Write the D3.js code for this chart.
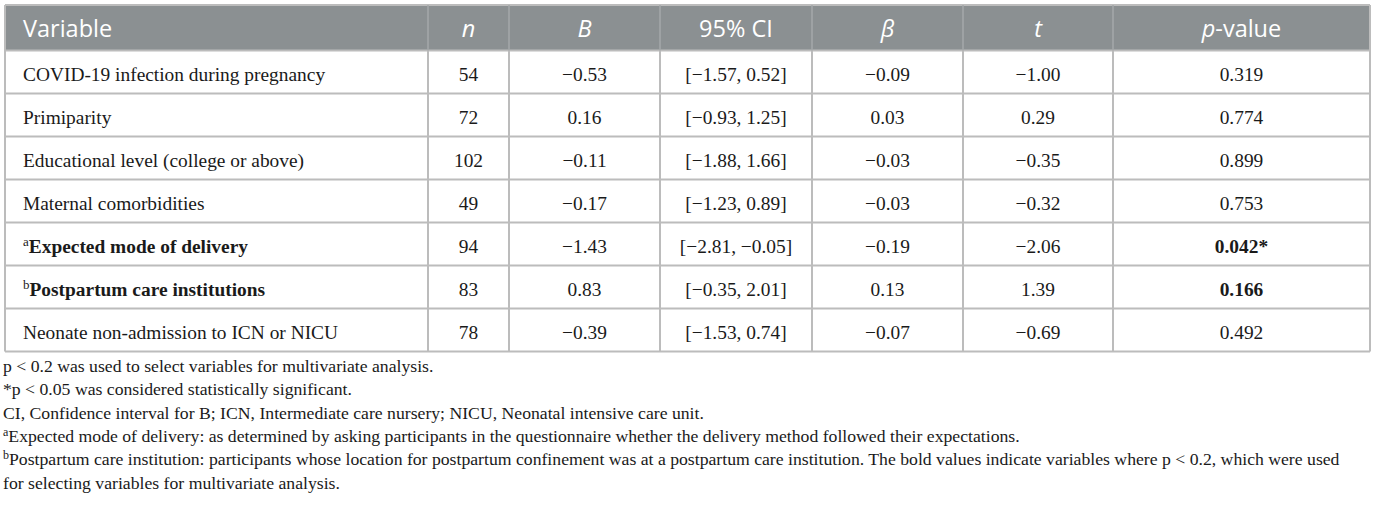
<!DOCTYPE html>
<html>
<head>
<meta charset="utf-8">
<script src="https://cdn.jsdelivr.net/npm/d3@7"></script>
<style>
  body { margin: 0; background: #fff; }
  svg { display: block; }
</style>
</head>
<body>
<div id="table"></div>
<script>
// table values
var headers = ["Variable", "n", "B", "95% CI", "β", "t", "p-value"];
var variables = [
  "COVID-19 infection during pregnancy",
  "Primiparity",
  "Educational level (college or above)",
  "Maternal comorbidities",
  "Expected mode of delivery",
  "Postpartum care institutions",
  "Neonate non-admission to ICN or NICU"
];
var marks = ["", "", "", "", "a", "b", ""];
var boldRow = [false, false, false, false, true, true, false];
var nValues = [54, 72, 102, 49, 94, 83, 78];
var bValues = [-0.53, 0.16, -0.11, -0.17, -1.43, 0.83, -0.39];
var ciLow = [-1.57, -0.93, -1.88, -1.23, -2.81, -0.35, -1.53];
var ciHigh = [0.52, 1.25, 1.66, 0.89, -0.05, 2.01, 0.74];
var betaValues = [-0.09, 0.03, -0.03, -0.03, -0.19, 0.13, -0.07];
var tValues = [-1.00, 0.29, -0.35, -0.32, -2.06, 1.39, -0.69];
var pValues = ["0.319", "0.774", "0.899", "0.753", "0.042*", "0.166", "0.492"];
var footnotes = [
  ["", "p < 0.2 was used to select variables for multivariate analysis."],
  ["", "*p < 0.05 was considered statistically significant."],
  ["", "CI, Confidence interval for B; ICN, Intermediate care nursery; NICU, Neonatal intensive care unit."],
  ["a", "Expected mode of delivery: as determined by asking participants in the questionnaire whether the delivery method followed their expectations."],
  ["b", "Postpartum care institution: participants whose location for postpartum confinement was at a postpartum care institution. The bold values indicate variables where p < 0.2, which were used"],
  ["", "for selecting variables for multivariate analysis."]
];

var width = 1375, height = 508;
var colEdges = [5, 428, 509, 660, 812, 963, 1113, 1370];
var headTop = 5, headBottom = 50.5;
var gridColor = "#bcbcbc";
var serif = "'Liberation Serif', 'Times New Roman', serif";
var sans = "'Open Sans', 'Noto Sans', sans-serif";

var fmt = function(v){ return d3.format(".2f")(v).replace("-", "\u2212"); };

var svg = d3.select("#table").append("svg")
  .attr("width", width)
  .attr("height", height);

var y = d3.scaleBand()
  .domain(d3.range(variables.length))
  .range([headBottom, headBottom + 43 * variables.length])
  .paddingInner(0);

var colX = d3.scaleOrdinal()
  .domain(d3.range(headers.length))
  .range(colEdges.slice(0, -1));
var colW = function(i){ return colEdges[i + 1] - colEdges[i]; };
var colMid = function(i){ return colX(i) + colW(i) / 2; };

// header band
svg.append("rect")
  .attr("x", colEdges[0]).attr("y", headTop)
  .attr("width", colEdges[colEdges.length - 1] - colEdges[0])
  .attr("height", headBottom - headTop)
  .attr("fill", "#8b9092");

var head = svg.append("g").selectAll("text")
  .data(headers)
  .enter().append("text")
  .attr("x", function(d, i){ return i === 0 ? 23 : colMid(i); })
  .attr("y", 37)
  .attr("text-anchor", function(d, i){ return i === 0 ? "start" : "middle"; })
  .attr("fill", "#ffffff")
  .attr("font-family", sans)
  .attr("font-size", 23.5);

head.each(function(d, i){
  var t = d3.select(this);
  if (i === 0 || d === "95% CI") { t.text(d); return; }
  if (d === "p-value") {
    t.append("tspan").attr("font-style", "italic").text("p");
    t.append("tspan").text("-value");
    return;
  }
  t.append("tspan").attr("font-style", "italic").text(d);
});

// body cells
var rows = svg.append("g").selectAll("g")
  .data(variables)
  .enter().append("g")
  .attr("transform", function(d, i){ return "translate(0," + y(i) + ")"; });

var cells = function(i){
  return [
    nValues[i],
    fmt(bValues[i]),
    "[" + fmt(ciLow[i]) + ", " + fmt(ciHigh[i]) + "]",
    fmt(betaValues[i]),
    fmt(tValues[i]),
    pValues[i]
  ];
};

rows.each(function(d, i){
  var g = d3.select(this);
  var label = g.append("text")
    .attr("x", 23).attr("y", 30.5)
    .attr("font-family", serif).attr("font-size", 19.4)
    .attr("fill", "#1a1a1a");
  if (marks[i]) {
    label.append("tspan").attr("font-size", 13).attr("dy", -7).text(marks[i]);
    label.append("tspan").attr("dy", 7).attr("font-weight", "bold").text(d);
  } else {
    label.text(d);
  }
  g.selectAll("text.val")
    .data(cells(i))
    .enter().append("text")
    .attr("class", "val")
    .attr("x", function(v, j){ return colMid(j + 1); })
    .attr("y", 30.5)
    .attr("text-anchor", "middle")
    .attr("font-family", serif).attr("font-size", 19.4)
    .attr("fill", "#1a1a1a")
    .attr("font-weight", function(v, j){ return (j === 5 && boldRow[i]) ? "bold" : "normal"; })
    .text(function(v){ return v; });
});

// grid lines
var tableBottom = y.range()[1];
var grid = svg.append("g")
  .attr("stroke", gridColor).attr("stroke-width", 2).attr("fill", "none");

grid.selectAll("line.h")
  .data(d3.range(variables.length + 1).map(function(i){ return headBottom + i * y.bandwidth(); }))
  .enter().append("line")
  .attr("x1", colEdges[0]).attr("x2", colEdges[colEdges.length - 1])
  .attr("y1", function(d){ return d; }).attr("y2", function(d){ return d; });

grid.selectAll("line.v")
  .data(colEdges)
  .enter().append("line")
  .attr("x1", function(d){ return d; }).attr("x2", function(d){ return d; })
  .attr("y1", function(d, i){ return (i === 0 || i === colEdges.length - 1) ? headTop : headBottom; })
  .attr("y2", tableBottom);

grid.append("line")
  .attr("x1", colEdges[0]).attr("x2", colEdges[colEdges.length - 1])
  .attr("y1", headTop).attr("y2", headTop);

// header separators (lighter on grey)
svg.append("g").selectAll("line")
  .data(colEdges.slice(1, -1))
  .enter().append("line")
  .attr("x1", function(d){ return d; }).attr("x2", function(d){ return d; })
  .attr("y1", headTop).attr("y2", headBottom)
  .attr("stroke", "#a4a8aa").attr("stroke-width", 1.5);

// footnotes
var notes = svg.append("g").selectAll("text")
  .data(footnotes)
  .enter().append("text")
  .attr("x", 3)
  .attr("y", function(d, i){ return 372 + i * 23.3; })
  .attr("font-family", serif).attr("font-size", 17.7)
  .attr("fill", "#1a1a1a");

notes.each(function(d){
  var t = d3.select(this);
  if (d[0]) {
    t.append("tspan").attr("font-size", 12).attr("dy", -6).text(d[0]);
    t.append("tspan").attr("dy", 6).text(d[1]);
  } else {
    t.text(d[1]);
  }
});
</script>
</body>
</html>
